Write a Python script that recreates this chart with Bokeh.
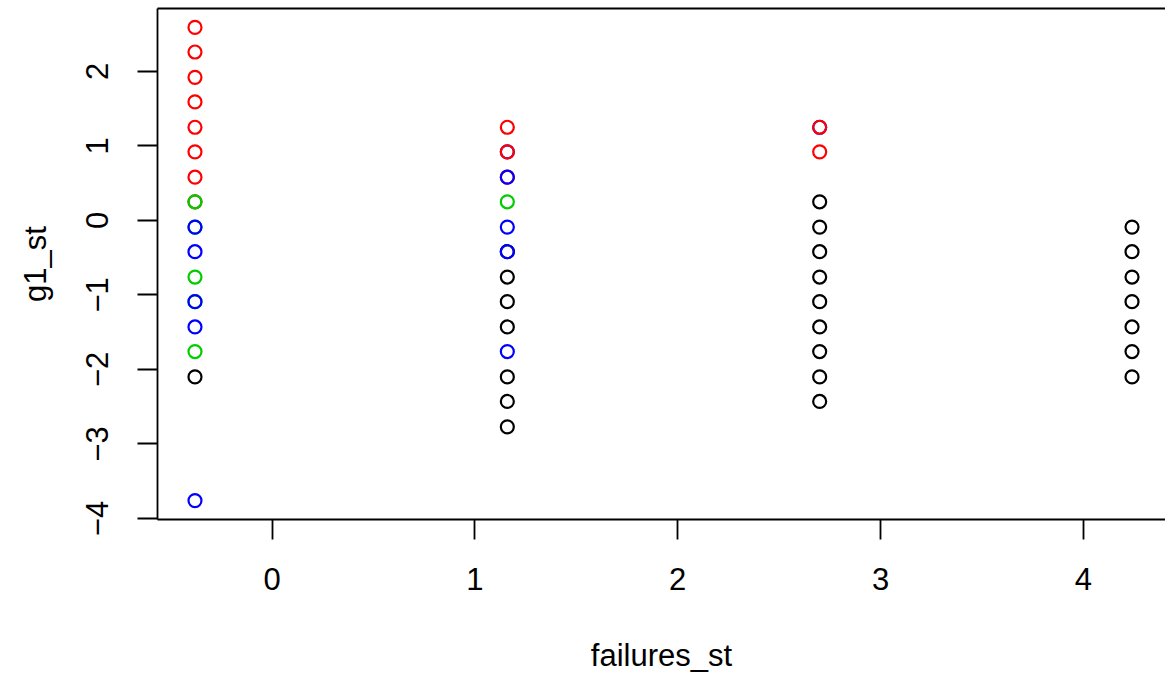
from bokeh.plotting import figure
from bokeh.models import Range1d, FixedTicker, LinearAxis, ColumnDataSource
from bokeh.embed import file_html
from bokeh.resources import INLINE

# Data (plotting order matters: later points overdraw earlier ones)
failures_st = [
    # failures = 0
    -0.38, -0.38, -0.38, -0.38, -0.38, -0.38, -0.38, -0.38,
    -0.38, -0.38, -0.38, -0.38, -0.38,
    -0.38, -0.38, -0.38, -0.38, -0.38,
    -0.38,
    # failures = 1
    1.16, 1.16, 1.16, 1.16, 1.16, 1.16, 1.16,
    1.16, 1.16,
    1.16, 1.16, 1.16, 1.16,
    1.16,
    1.16, 1.16,
    # failures = 2
    2.70, 2.70, 2.70, 2.70, 2.70, 2.70, 2.70, 2.70, 2.70,
    2.70, 2.70, 2.70,
    # failures = 3
    4.24, 4.24, 4.24, 4.24, 4.24, 4.24, 4.24,
]
g1_st = [
    2.59, 2.26, 1.92, 1.59, 1.25, 0.92, 0.58, 0.25,
    0.25, -0.76, -1.76, -0.09, -1.09,
    -0.09, -0.42, -1.09, -1.43, -3.76,
    -2.10,
    -0.42, -0.76, -1.09, -1.43, -2.10, -2.43, -2.77,
    0.58, 0.92,
    0.58, -0.09, -0.42, -1.76,
    0.25,
    1.25, 0.92,
    0.25, -0.09, -0.42, -0.76, -1.09, -1.43, -1.76, -2.10, -2.43,
    1.25, 1.25, 0.92,
    -0.09, -0.42, -0.76, -1.09, -1.43, -1.76, -2.10,
]
col = [
    "red", "red", "red", "red", "red", "red", "red", "red",
    "green3", "green3", "green3", "green3", "green3",
    "blue", "blue", "blue", "blue", "blue",
    "black",
    "black", "black", "black", "black", "black", "black", "black",
    "red", "blue",
    "blue", "blue", "blue", "blue",
    "green3",
    "red", "red",
    "black", "black", "black", "black", "black", "black", "black", "black", "black",
    "blue", "red", "red",
    "black", "black", "black", "black", "black", "black", "black",
]
x_ticks = [0, 1, 2, 3, 4]
y_ticks = [-4, -3, -2, -1, 0, 1, 2]

palette = {"red": "#FF0000", "green3": "#00CD00", "blue": "#0000FF", "black": "#000000"}
source = ColumnDataSource(dict(x=failures_st, y=g1_st,
                               c=[palette[c] for c in col]))

# R-style 4% range extension
xmin, xmax = min(failures_st), max(failures_st)
ymin, ymax = min(g1_st), max(g1_st)
dx = (xmax - xmin) * 0.04
dy = (ymax - ymin) * 0.04
x_start = xmin - dx
x_end = x_start + ((xmax + dx) - x_start) * 1008.0 / 1012.0  # right edge clipped by window

FONT = "Liberation Sans"

p = figure(width=1165, height=675, output_backend="svg", toolbar_location=None,
           x_range=Range1d(x_start, x_end), y_range=Range1d(ymin - dy, ymax + dy),
           min_border_left=157, min_border_right=0, min_border_top=8, min_border_bottom=156)
p.grid.visible = False
p.outline_line_color = None
p.background_fill_color = "white"
p.border_fill_color = "white"

p.scatter("x", "y", source=source, size=13, fill_color=None, line_color="c",
          line_width=2.2, marker="circle")

for ax, ticks in ((p.xaxis[0], x_ticks), (p.yaxis[0], y_ticks)):
    ax.ticker = FixedTicker(ticks=ticks)
    ax.minor_tick_line_color = None
    ax.major_tick_in = 0
    ax.major_tick_out = 20
    ax.major_tick_line_width = 1.8
    ax.axis_line_width = 1.8
    ax.axis_line_color = "black"
    ax.major_tick_line_color = "black"
    ax.major_label_text_font = FONT
    ax.major_label_text_font_size = "31px"
    ax.major_label_text_color = "black"
    ax.major_label_standoff = 28
    ax.axis_label_text_font = FONT
    ax.axis_label_text_font_size = "31px"
    ax.axis_label_text_font_style = "normal"
    ax.axis_label_text_color = "black"
    ax.major_label_overrides = {t: (str(t).replace("-", "\u2212")) for t in ticks}

p.xaxis[0].axis_label = "failures_st"
p.xaxis[0].axis_label_standoff = 45
p.yaxis[0].axis_label = "g1_st"
p.yaxis[0].axis_label_standoff = 31
p.yaxis[0].major_label_standoff = 29
p.yaxis[0].major_label_orientation = "vertical"

top = LinearAxis(ticker=FixedTicker(ticks=[]), major_tick_out=0, major_tick_in=0,
                 minor_tick_out=0, minor_tick_in=0, major_label_standoff=0,
                 major_label_text_font_size="0px", axis_line_width=1.8,
                 axis_line_color="black")
p.add_layout(top, "above")

open("out.html", "w").write(file_html(p, INLINE))
